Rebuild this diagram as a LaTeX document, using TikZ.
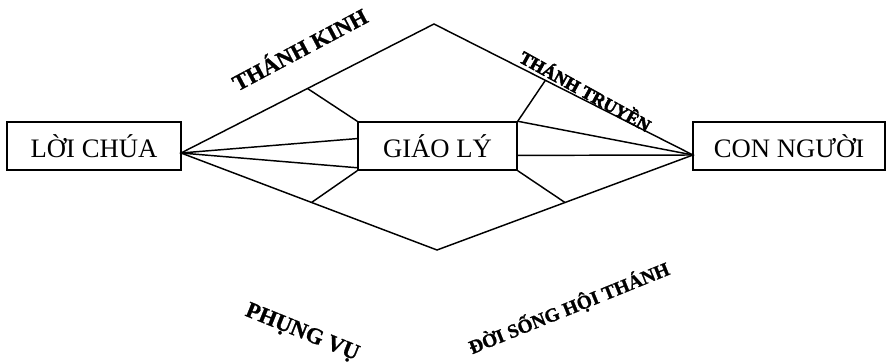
\documentclass[tikz,border=0pt]{standalone}
\usepackage{fontspec}
\setmainfont{Liberation Serif}
\newfontfamily\artfont{Liberation Serif Bold}[FakeBold=1]
\newfontfamily\heavyfont{Liberation Serif Bold}[FakeBold=3]
\usetikzlibrary{calc}

\begin{document}
\begin{tikzpicture}[x=0.75pt, y=-0.75pt, line width=1.1pt,
		box/.style={draw, minimum height=36pt, inner sep=0pt, font=\fontsize{20}{24}\selectfont},
		art/.style={font=\fontsize{#1}{#1}\selectfont\artfont, inner sep=0pt},
		heavy/.style={font=\fontsize{#1}{#1}\selectfont\heavyfont, inner sep=0pt}]
		\useasboundingbox (0, 0) rectangle (886, 363);
		
		% boxes
		\node[box, minimum width=130.5pt] (loi) at (94, 146) {LỜI CHÚA};
		\node[box, minimum width=119.25pt] (giao) at (437.5, 146) {GIÁO LÝ};
		\node[box, minimum width=144pt] (con) at (789, 146) {CON NGƯỜI};
		
		% corners of the diamond
		\coordinate (L) at (181, 153);
		\coordinate (R) at (693, 155);
		\coordinate (top) at (434, 24);
		\coordinate (bot) at (437, 250);
		\draw (L) -- (top) -- (R) -- (bot) -- cycle;
		
		% lines through the middle
		\draw (L) -- ($(giao.north west)!0.35!(giao.south west)$);
		\draw (L) -- ($(giao.north west)!0.94!(giao.south west)$);
		\draw (R) -- (giao.north east);
		\draw (R) -- ($(giao.north east)!0.69!(giao.south east)$);
		
		% short links to the corners of the middle box
		\draw ($(L)!0.5!(top)$) -- (giao.north west);
		\draw ($(top)!0.43!(R)$) -- (giao.north east);
		\draw ($(L)!0.51!(bot)$) -- (giao.south west);
		\draw ($(bot)!0.5!(R)$) -- (giao.south east);
		
		% labels
		\node[art=17, rotate=28] (kinh) at (299, 48) {THÁNH KINH};
		\node[heavy=13.5, rotate=-29] (truyen) at (586, 90) {THÁNH TRUYỀN};
		\node[art=17, rotate=-22] (phung) at (302, 333) {PHỤNG VỤ};
		\node[art=14.5, rotate=22] (doi) at (569, 308) {ĐỜI SỐNG HỘI THÁNH};
		
	\end{tikzpicture}
\end{document}
